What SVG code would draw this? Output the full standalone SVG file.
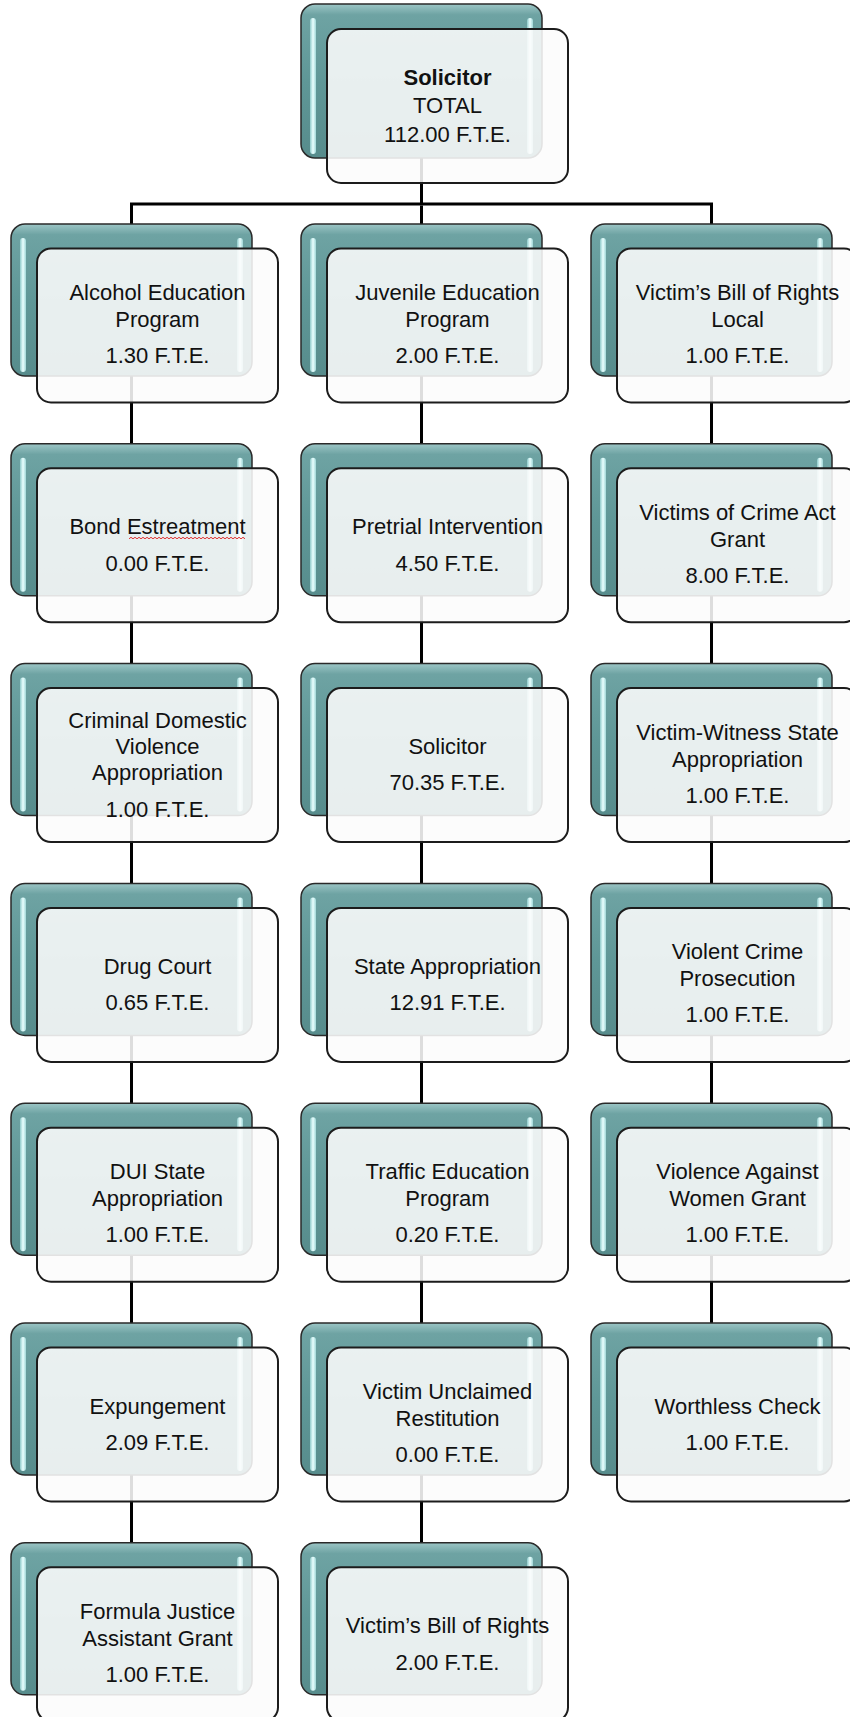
<svg xmlns="http://www.w3.org/2000/svg" width="850" height="1717" viewBox="0 0 850 1717">
<defs>
<linearGradient id="gBack" x1="0" y1="0" x2="0" y2="1">
<stop offset="0" stop-color="#9cc6c6"/>
<stop offset="0.07" stop-color="#6ea3a3"/>
<stop offset="0.5" stop-color="#5f9797"/>
<stop offset="1" stop-color="#578c8c"/>
</linearGradient>
<linearGradient id="gBar" x1="0" y1="0" x2="1" y2="0">
<stop offset="0" stop-color="#8fcaca"/>
<stop offset="0.5" stop-color="#eaffff"/>
<stop offset="1" stop-color="#9fd6d6"/>
</linearGradient>
</defs>
<style>
.back{fill:url(#gBack);stroke:#2a2a2a;stroke-width:1.5}
.bar{fill:url(#gBar)}
.front{fill:#fcfcfc;fill-opacity:0.88;stroke:#1c1c1c;stroke-width:2}
.t{font-family:"Liberation Sans",Arial,sans-serif;font-size:22px;fill:#111;text-anchor:middle}
.b{font-weight:bold}
.conn{fill:none;stroke:#000;stroke-width:3}
</style>
<rect width="850" height="1717" fill="#fff"/>
<g id="connectors">
<path class="conn" d="M421.5 158 V204"/>
<path class="conn" d="M131.5 224 V204 H711.5 V224"/>
<path class="conn" d="M131.5 224 V1542.8"/>
<path class="conn" d="M421.5 224 V1542.8"/>
<path class="conn" d="M711.5 224 V1323"/>
<path class="conn" d="M421.5 205.5 V224" stroke="#5b7fa3"/>
</g>
<g id="n-top" transform="translate(301,4)">
<rect class="back" x="0" y="0" width="241" height="154" rx="14"/>
<rect class="bar" x="9" y="14" width="6" height="136" rx="3"/>
<rect class="bar" x="226" y="14" width="6" height="136" rx="3"/>
<rect class="front" x="26" y="25" width="241" height="154" rx="14"/>
<text class="t b" x="146.5" y="81">Solicitor</text>
<text class="t" x="146.5" y="109">TOTAL</text>
<text class="t" x="146.5" y="138">112.00 F.T.E.</text>
</g>
<!-- column 1 -->
<g id="n-alcohol" transform="translate(11,224)">
<rect class="back" width="241" height="152" rx="14"/><rect class="bar" x="9" y="14" width="6" height="134" rx="3"/><rect class="bar" x="226" y="14" width="6" height="134" rx="3"/><rect class="front" x="26" y="24.5" width="241" height="154" rx="14"/>
<text class="t" x="146.5" y="76">Alcohol Education</text><text class="t" x="146.5" y="103">Program</text><text class="t" x="146.5" y="139">1.30 F.T.E.</text>
</g>
<g id="n-bond" transform="translate(11,443.8)">
<rect class="back" width="241" height="152" rx="14"/><rect class="bar" x="9" y="14" width="6" height="134" rx="3"/><rect class="bar" x="226" y="14" width="6" height="134" rx="3"/><rect class="front" x="26" y="24.5" width="241" height="154" rx="14"/>
<text class="t" x="146.5" y="90">Bond Estreatment</text><text class="t" x="146.5" y="127">0.00 F.T.E.</text>
<path d="M118 95 l2 -1.5 l2 1.5 l2 -1.5 l2 1.5 l2 -1.5 l2 1.5 l2 -1.5 l2 1.5 l2 -1.5 l2 1.5 l2 -1.5 l2 1.5 l2 -1.5 l2 1.5 l2 -1.5 l2 1.5 l2 -1.5 l2 1.5 l2 -1.5 l2 1.5 l2 -1.5 l2 1.5 l2 -1.5 l2 1.5 l2 -1.5 l2 1.5 l2 -1.5 l2 1.5 l2 -1.5 l2 1.5 l2 -1.5 l2 1.5 l2 -1.5 l2 1.5 l2 -1.5 l2 1.5 l2 -1.5 l2 1.5 l2 -1.5 l2 1.5 l2 -1.5 l2 1.5 l2 -1.5 l2 1.5 l2 -1.5 l2 1.5 l2 -1.5 l2 1.5 l2 -1.5 l2 1.5 l2 -1.5 l2 1.5 l2 -1.5 l2 1.5 l2 -1.5 l2 1.5 l2 -1.5 l2 1.5" fill="none" stroke="#e03030" stroke-width="1"/>
</g>
<g id="n-cdv" transform="translate(11,663.6)">
<rect class="back" width="241" height="152" rx="14"/><rect class="bar" x="9" y="14" width="6" height="134" rx="3"/><rect class="bar" x="226" y="14" width="6" height="134" rx="3"/><rect class="front" x="26" y="24.5" width="241" height="154" rx="14"/>
<text class="t" x="146.5" y="64">Criminal Domestic</text><text class="t" x="146.5" y="90">Violence</text><text class="t" x="146.5" y="116">Appropriation</text><text class="t" x="146.5" y="153">1.00 F.T.E.</text>
</g>
<g id="n-drug" transform="translate(11,883.4)">
<rect class="back" width="241" height="152" rx="14"/><rect class="bar" x="9" y="14" width="6" height="134" rx="3"/><rect class="bar" x="226" y="14" width="6" height="134" rx="3"/><rect class="front" x="26" y="24.5" width="241" height="154" rx="14"/>
<text class="t" x="146.5" y="91">Drug Court</text><text class="t" x="146.5" y="127">0.65 F.T.E.</text>
</g>
<g id="n-dui" transform="translate(11,1103.2)">
<rect class="back" width="241" height="152" rx="14"/><rect class="bar" x="9" y="14" width="6" height="134" rx="3"/><rect class="bar" x="226" y="14" width="6" height="134" rx="3"/><rect class="front" x="26" y="24.5" width="241" height="154" rx="14"/>
<text class="t" x="146.5" y="76">DUI State</text><text class="t" x="146.5" y="103">Appropriation</text><text class="t" x="146.5" y="139">1.00 F.T.E.</text>
</g>
<g id="n-expunge" transform="translate(11,1323)">
<rect class="back" width="241" height="152" rx="14"/><rect class="bar" x="9" y="14" width="6" height="134" rx="3"/><rect class="bar" x="226" y="14" width="6" height="134" rx="3"/><rect class="front" x="26" y="24.5" width="241" height="154" rx="14"/>
<text class="t" x="146.5" y="91">Expungement</text><text class="t" x="146.5" y="127">2.09 F.T.E.</text>
</g>
<g id="n-formula" transform="translate(11,1542.8)">
<rect class="back" width="241" height="152" rx="14"/><rect class="bar" x="9" y="14" width="6" height="134" rx="3"/><rect class="bar" x="226" y="14" width="6" height="134" rx="3"/><rect class="front" x="26" y="24.5" width="241" height="154" rx="14"/>
<text class="t" x="146.5" y="76">Formula Justice</text><text class="t" x="146.5" y="103">Assistant Grant</text><text class="t" x="146.5" y="139">1.00 F.T.E.</text>
</g>
<!-- column 2 -->
<g id="n-juvenile" transform="translate(301,224)">
<rect class="back" width="241" height="152" rx="14"/><rect class="bar" x="9" y="14" width="6" height="134" rx="3"/><rect class="bar" x="226" y="14" width="6" height="134" rx="3"/><rect class="front" x="26" y="24.5" width="241" height="154" rx="14"/>
<text class="t" x="146.5" y="76">Juvenile Education</text><text class="t" x="146.5" y="103">Program</text><text class="t" x="146.5" y="139">2.00 F.T.E.</text>
</g>
<g id="n-pretrial" transform="translate(301,443.8)">
<rect class="back" width="241" height="152" rx="14"/><rect class="bar" x="9" y="14" width="6" height="134" rx="3"/><rect class="bar" x="226" y="14" width="6" height="134" rx="3"/><rect class="front" x="26" y="24.5" width="241" height="154" rx="14"/>
<text class="t" x="146.5" y="90">Pretrial Intervention</text><text class="t" x="146.5" y="127">4.50 F.T.E.</text>
</g>
<g id="n-solicitor" transform="translate(301,663.6)">
<rect class="back" width="241" height="152" rx="14"/><rect class="bar" x="9" y="14" width="6" height="134" rx="3"/><rect class="bar" x="226" y="14" width="6" height="134" rx="3"/><rect class="front" x="26" y="24.5" width="241" height="154" rx="14"/>
<text class="t" x="146.5" y="90">Solicitor</text><text class="t" x="146.5" y="126">70.35 F.T.E.</text>
</g>
<g id="n-state" transform="translate(301,883.4)">
<rect class="back" width="241" height="152" rx="14"/><rect class="bar" x="9" y="14" width="6" height="134" rx="3"/><rect class="bar" x="226" y="14" width="6" height="134" rx="3"/><rect class="front" x="26" y="24.5" width="241" height="154" rx="14"/>
<text class="t" x="146.5" y="91">State Appropriation</text><text class="t" x="146.5" y="127">12.91 F.T.E.</text>
</g>
<g id="n-traffic" transform="translate(301,1103.2)">
<rect class="back" width="241" height="152" rx="14"/><rect class="bar" x="9" y="14" width="6" height="134" rx="3"/><rect class="bar" x="226" y="14" width="6" height="134" rx="3"/><rect class="front" x="26" y="24.5" width="241" height="154" rx="14"/>
<text class="t" x="146.5" y="76">Traffic Education</text><text class="t" x="146.5" y="103">Program</text><text class="t" x="146.5" y="139">0.20 F.T.E.</text>
</g>
<g id="n-unclaimed" transform="translate(301,1323)">
<rect class="back" width="241" height="152" rx="14"/><rect class="bar" x="9" y="14" width="6" height="134" rx="3"/><rect class="bar" x="226" y="14" width="6" height="134" rx="3"/><rect class="front" x="26" y="24.5" width="241" height="154" rx="14"/>
<text class="t" x="146.5" y="76">Victim Unclaimed</text><text class="t" x="146.5" y="103">Restitution</text><text class="t" x="146.5" y="139">0.00 F.T.E.</text>
</g>
<g id="n-vbor" transform="translate(301,1542.8)">
<rect class="back" width="241" height="152" rx="14"/><rect class="bar" x="9" y="14" width="6" height="134" rx="3"/><rect class="bar" x="226" y="14" width="6" height="134" rx="3"/><rect class="front" x="26" y="24.5" width="241" height="154" rx="14"/>
<text class="t" x="146.5" y="90">Victim’s Bill of Rights</text><text class="t" x="146.5" y="127">2.00 F.T.E.</text>
</g>
<!-- column 3 -->
<g id="n-vbor-local" transform="translate(591,224)">
<rect class="back" width="241" height="152" rx="14"/><rect class="bar" x="9" y="14" width="6" height="134" rx="3"/><rect class="bar" x="226" y="14" width="6" height="134" rx="3"/><rect class="front" x="26" y="24.5" width="241" height="154" rx="14"/>
<text class="t" x="146.5" y="76">Victim’s Bill of Rights</text><text class="t" x="146.5" y="103">Local</text><text class="t" x="146.5" y="139">1.00 F.T.E.</text>
</g>
<g id="n-voca" transform="translate(591,443.8)">
<rect class="back" width="241" height="152" rx="14"/><rect class="bar" x="9" y="14" width="6" height="134" rx="3"/><rect class="bar" x="226" y="14" width="6" height="134" rx="3"/><rect class="front" x="26" y="24.5" width="241" height="154" rx="14"/>
<text class="t" x="146.5" y="76">Victims of Crime Act</text><text class="t" x="146.5" y="103">Grant</text><text class="t" x="146.5" y="139">8.00 F.T.E.</text>
</g>
<g id="n-vwsa" transform="translate(591,663.6)">
<rect class="back" width="241" height="152" rx="14"/><rect class="bar" x="9" y="14" width="6" height="134" rx="3"/><rect class="bar" x="226" y="14" width="6" height="134" rx="3"/><rect class="front" x="26" y="24.5" width="241" height="154" rx="14"/>
<text class="t" x="146.5" y="76">Victim-Witness State</text><text class="t" x="146.5" y="103">Appropriation</text><text class="t" x="146.5" y="139">1.00 F.T.E.</text>
</g>
<g id="n-violent" transform="translate(591,883.4)">
<rect class="back" width="241" height="152" rx="14"/><rect class="bar" x="9" y="14" width="6" height="134" rx="3"/><rect class="bar" x="226" y="14" width="6" height="134" rx="3"/><rect class="front" x="26" y="24.5" width="241" height="154" rx="14"/>
<text class="t" x="146.5" y="76">Violent Crime</text><text class="t" x="146.5" y="103">Prosecution</text><text class="t" x="146.5" y="139">1.00 F.T.E.</text>
</g>
<g id="n-vawg" transform="translate(591,1103.2)">
<rect class="back" width="241" height="152" rx="14"/><rect class="bar" x="9" y="14" width="6" height="134" rx="3"/><rect class="bar" x="226" y="14" width="6" height="134" rx="3"/><rect class="front" x="26" y="24.5" width="241" height="154" rx="14"/>
<text class="t" x="146.5" y="76">Violence Against</text><text class="t" x="146.5" y="103">Women Grant</text><text class="t" x="146.5" y="139">1.00 F.T.E.</text>
</g>
<g id="n-worthless" transform="translate(591,1323)">
<rect class="back" width="241" height="152" rx="14"/><rect class="bar" x="9" y="14" width="6" height="134" rx="3"/><rect class="bar" x="226" y="14" width="6" height="134" rx="3"/><rect class="front" x="26" y="24.5" width="241" height="154" rx="14"/>
<text class="t" x="146.5" y="91">Worthless Check</text><text class="t" x="146.5" y="127">1.00 F.T.E.</text>
</g>
</svg>
